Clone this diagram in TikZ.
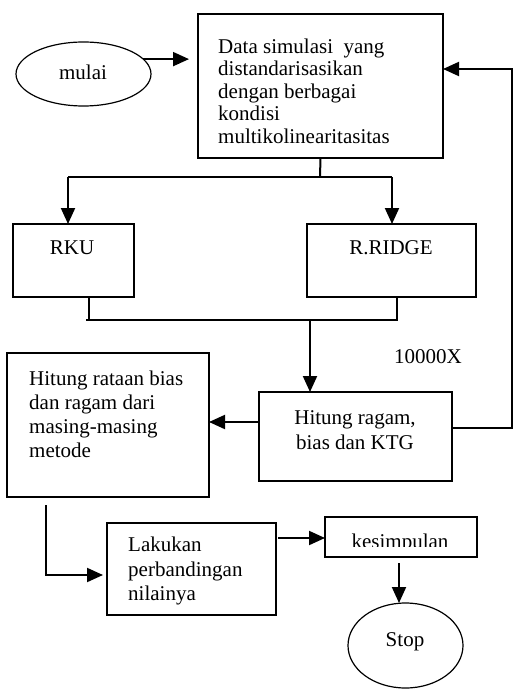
\documentclass[tikz,border=0pt]{standalone}
\usepackage{fontspec}
\setmainfont{Liberation Serif}
\usetikzlibrary{shapes.geometric,arrows.meta}
\tikzset{
  box/.style={draw, line width=1.2pt, inner sep=0pt, outer sep=0pt},
  oval/.style={draw, ellipse, line width=1.2pt, inner sep=0pt, outer sep=0pt},
  txt/.style={inner sep=0pt, font=\fontsize{21}{24.5}\selectfont},
  conn/.style={line width=2pt},
  arr/.style={line width=2pt, -{Triangle[length=16pt,width=14pt]}}
}
\begin{document}
\begin{tikzpicture}[x=1pt,y=-1pt]
\useasboundingbox (0,0) rectangle (516,698);
% shapes
\node[oval, minimum width=135pt, minimum height=64pt] (mulai) at (83.5,74) {};
\node[box, minimum width=245pt, minimum height=144pt] (data) at (320.5,86) {};
\node[box, minimum width=121pt, minimum height=73pt] (rku) at (73.5,260.5) {};
\node[box, minimum width=169pt, minimum height=73pt] (rridge) at (391.5,260.5) {};
\node[box, minimum width=202pt, minimum height=144pt] (rataan) at (108,425) {};
\node[box, minimum width=193pt, minimum height=89pt] (ragam) at (355.5,436.5) {};
\node[box, minimum width=169pt, minimum height=92pt] (lakukan) at (191.5,569) {};
\node[box, minimum width=152pt, minimum height=40pt] (kesimpulan) at (401,537) {};
\node[oval, minimum width=115pt, minimum height=85pt] (stop) at (405.5,645.5) {};
% texts
\node[txt] (mulait) at (83,72) {mulai};
\node[txt, anchor=west, align=left, font=\fontsize{21}{22.5}\selectfont] (datat) at (218,91)
  {Data simulasi\ \ yang\\distandarisasikan\\dengan berbagai\\kondisi\\multikolinearitasitas};
\node[txt] (rkut) at (72,248) {RKU};
\node[txt] (rridget) at (391,248) {R.RIDGE};
\node[txt] (tenk) at (428,357) {10000X};
\node[txt, anchor=west, align=left, font=\fontsize{21}{24}\selectfont] (rataant) at (29,414)
  {Hitung rataan bias\\dan ragam dari\\masing-masing\\metode};
\node[txt, align=center, font=\fontsize{21}{25}\selectfont] (ragamt) at (355,430) {Hitung ragam,\\bias dan KTG};
\node[txt, anchor=west, align=left] (lakukant) at (128,571)
  {Lakukan\\perbandingan\\nilainya};
\begin{scope}
  \clip (326,518) rectangle (476,546);
  \node[txt, anchor=base] (kesimpulant) at (400,548) {kesimpulan};
\end{scope}
\node[txt] (stopt) at (405,642) {Stop};
% connector coordinates
\coordinate (sp) at (320,177);
\coordinate (sl) at (68,177);
\coordinate (sr) at (392,177);
\coordinate (ml) at (89,320);
\coordinate (mr) at (397,320);
\coordinate (mm) at (310,320);
\coordinate (fb1) at (512,428);
\coordinate (fb2) at (512,69);
\coordinate (c3) at (259,422);
\coordinate (r1) at (46,505);
\coordinate (r2) at (46,575);
\coordinate (k1) at (278,538);
\coordinate (s1) at (399,563);
% connectors
\draw[arr, shorten >=9pt] (mulai.14) -- (mulai.14 -| data.west);
\draw[conn] (data.south) -- (sp);
\draw[conn] (sl) -- (sr);
\draw[arr] (sl) -- (sl |- rku.north);
\draw[arr] (sr) -- (sr |- rridge.north);
\draw[conn] (ml |- rku.south) -- (ml) -- (mr) -- (mr |- rridge.south);
\draw[conn] (ml) -- ++(-3,0);
\draw[arr] (mm) -- (mm |- ragam.north);
\draw[arr] (ragam.east |- fb1) -- (fb1) -- (fb2) -- (fb2 -| data.east);
\draw[arr] (c3) -- (c3 -| rataan.east);
\draw[arr, shorten >=4pt] (r1) -- (r2) -- (r2 -| lakukan.west);
\draw[arr] (k1) -- (k1 -| kesimpulan.west);
\draw[arr] (s1) -- (s1 |- stop.north);
\end{tikzpicture}
\end{document}
